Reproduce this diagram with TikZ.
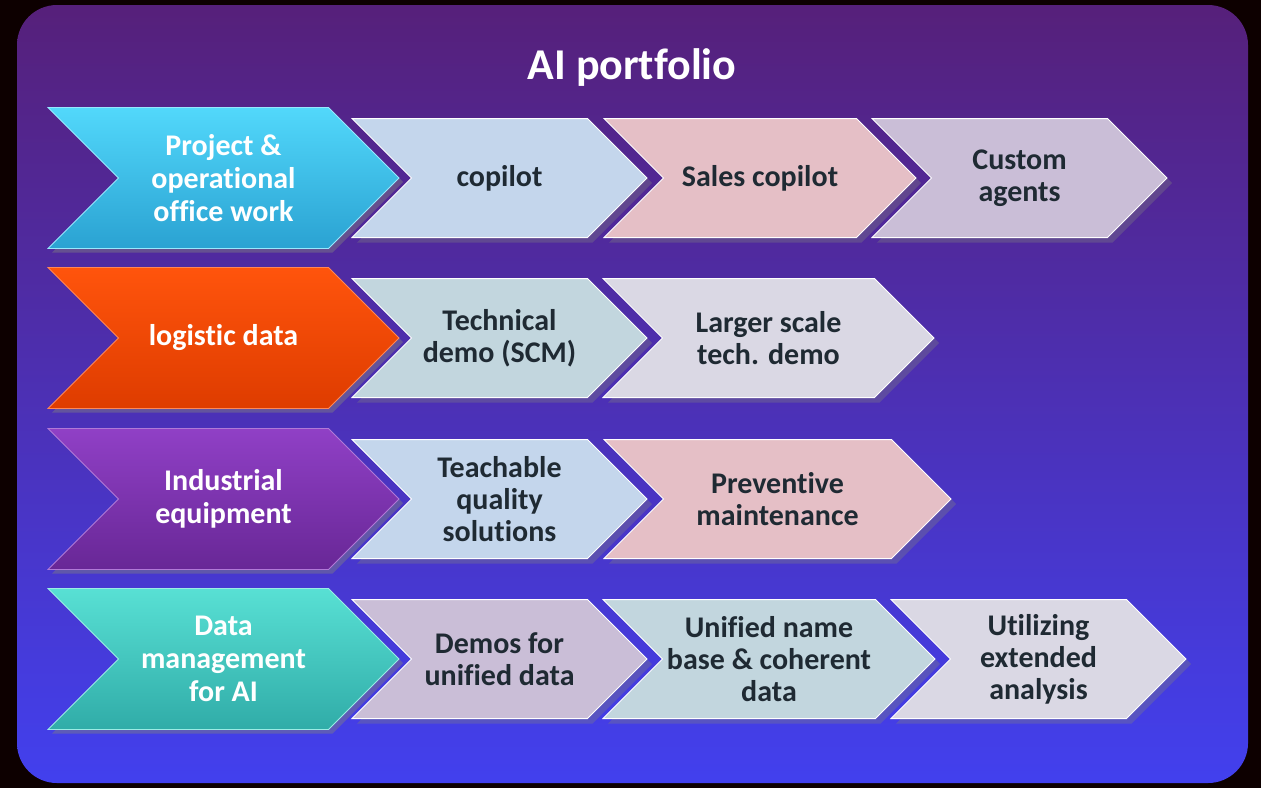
\documentclass[tikz,border=0pt]{standalone}
\usepackage{fontspec}
\setmainfont{Carlito}[Ligatures=NoCommon]
\usetikzlibrary{shapes.symbols,shadows}

\definecolor{bgtop}{HTML}{56207A}
\definecolor{bgmid}{HTML}{4B32BA}
\definecolor{bgbot}{HTML}{4240EE}
\definecolor{inkdark}{HTML}{1F2A33}
\definecolor{stblue}{HTML}{C4D6EC}
\definecolor{stpink}{HTML}{E5BFC6}
\definecolor{stlav}{HTML}{CABED7}
\definecolor{stteal}{HTML}{C2D6DE}
\definecolor{stgrey}{HTML}{DAD8E4}
\definecolor{cyantop}{HTML}{52D8FB}
\definecolor{cyanbot}{HTML}{2AA2D2}
\definecolor{orgtop}{HTML}{FF540C}
\definecolor{orgbot}{HTML}{DE3C00}
\definecolor{purtop}{HTML}{9040C6}
\definecolor{purbot}{HTML}{682796}
\definecolor{teatop}{HTML}{58E0D4}
\definecolor{teabot}{HTML}{30ACA8}

\tikzset{
  lead/.style={signal, signal from=west, signal to=east, minimum width=175.5pt,
    minimum height=70.5pt, inner sep=0pt, outer sep=0pt, align=center, text=white,
    font=\bfseries\fontsize{15}{16.5}\selectfont,
    drop shadow={shadow xshift=2pt, shadow yshift=-2pt, opacity=.45}},
  stage/.style={signal, signal from=west, signal to=east, minimum height=59.5pt,
    inner sep=0pt, outer sep=0pt, align=center, text=inkdark, draw=white!55, line width=.5pt,
    font=\bfseries\fontsize{15}{16}\selectfont,
    drop shadow={shadow xshift=2.5pt, shadow yshift=-2.5pt, opacity=.35}}
}

\begin{document}
\begin{tikzpicture}[x=0.5pt,y=-0.5pt]
\def \rowa {178}
\def \rowb {338}
\def \rowc {499}
\def \rowd {659}
\useasboundingbox (0,0) rectangle (1261,788);
\fill[black!95!red] (0,0) rectangle (1261,788);
\shade[top color=bgtop, middle color=bgmid, bottom color=bgbot, rounded corners=20pt]
  (17,5) rectangle (1248,783);
\draw (632,68) node[text=white, font=\bfseries\fontsize{22}{24}\selectfont] (title) {AI portfolio};

\draw (223.5,\rowa) node[lead, top color=cyantop, bottom color=cyanbot, draw=cyantop!60!white] (proj) {Project \&\\operational\\office work};
\draw (499.5,\rowa) node[stage, fill=stblue, minimum width=147.5pt] (copilot) {copilot};
\draw (760,\rowa) node[stage, fill=stpink, minimum width=156pt] (sales) {Sales copilot};
\draw (1019.5,\rowa) node[stage, fill=stlav, minimum width=147.5pt] (agents) {Custom\\agents};

\draw (223.5,\rowb) node[lead, top color=orgtop, bottom color=orgbot, draw=orgtop!70!white] (logi) {logistic data};
\draw (499.5,\rowb) node[stage, fill=stteal, minimum width=147.5pt] (scm) {Technical\\demo (SCM)};
\draw (768.5,\rowb) node[stage, fill=stgrey, minimum width=165.5pt] (larger) {Larger scale\\tech. demo};

\draw (223.5,\rowc) node[lead, top color=purtop, bottom color=purbot, draw=purtop!70!white] (indu) {Industrial\\equipment};
\draw (499.5,\rowc) node[stage, fill=stblue, minimum width=147.5pt] (teach) {Teachable\\quality\\solutions};
\draw (777.5,\rowc) node[stage, fill=stpink, minimum width=173.5pt] (prev) {Preventive\\maintenance};

\draw (223.5,\rowd) node[lead, top color=teatop, bottom color=teabot, draw=teatop!60!white] (datam) {Data\\management\\for AI};
\draw (499.5,\rowd) node[stage, fill=stlav, minimum width=147.5pt] (demos) {Demos for\\unified data};
\draw (769,\rowd) node[stage, fill=stteal, minimum width=166pt] (unified) {Unified name\\base \& coherent\\data};
\draw (1038.5,\rowd) node[stage, fill=stgrey, minimum width=147.5pt] (util) {Utilizing\\extended\\analysis};
\end{tikzpicture}
\end{document}
